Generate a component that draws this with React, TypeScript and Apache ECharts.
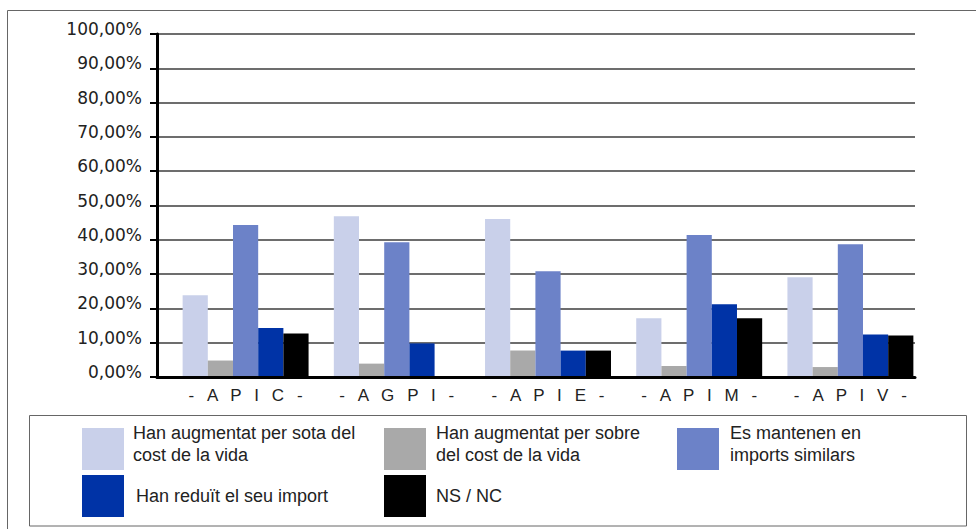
import React, { useEffect, useRef } from "react";
import * as echarts from "echarts";

const categories = ["APIC", "AGPI", "APIE", "APIM", "APIV"];
const yTicks = { min: 0, max: 100, interval: 10 };

const seriesNames = [
  "Han augmentat per sota del cost de la vida",
  "Han augmentat per sobre del cost de la vida",
  "Es mantenen en imports similars",
  "Han reduït el seu import",
  "NS / NC",
];
const legendLines = [
  ["Han augmentat per sota del", "cost de la vida"],
  ["Han augmentat per sobre", "del cost de la vida"],
  ["Es mantenen en", "imports similars"],
  ["Han reduït el seu import"],
  ["NS / NC"],
];
const perSota = [23.8, 46.9, 46.1, 17.1, 29.1];
const perSobre = [4.8, 3.9, 7.7, 3.2, 2.9];
const similars = [44.3, 39.3, 30.8, 41.4, 38.7];
const reduit = [14.3, 9.8, 7.7, 21.2, 12.4];
const nsnc = [12.7, 0, 7.7, 17.1, 12.1];
const seriesValues = [perSota, perSobre, similars, reduit, nsnc];
const colors = ["#C9D0EA", "#A9A9A9", "#6C82C8", "#0033A6", "#000000"];

export default function App() {
  const ref = useRef<HTMLDivElement>(null);
  useEffect(() => {
    if (!ref.current) return;
    const chart = echarts.init(ref.current, null, { renderer: "svg" });
    const legendPos = [
      { left: 82, top: 424, pad: 4 },
      { left: 384, top: 424, pad: 5 },
      { left: 677, top: 424, pad: 6 },
      { left: 82, top: 475, pad: 7 },
      { left: 384, top: 475, pad: 5 },
    ];
    const gap = "  \u2009";
    const option: any = {
      animation: false,
      backgroundColor: "#ffffff",
      grid: [
        { left: 157, right: 61, top: 34, bottom: 152 },
        { left: 170, right: 50, top: 34, bottom: 152 },
      ],
      xAxis: [
        {
          type: "category",
          gridIndex: 0,
          data: categories,
          z: 5,
          axisLine: { show: true, lineStyle: { color: "#000", width: 3 } },
          axisTick: { show: false },
          axisLabel: { show: false },
          splitLine: { show: false },
        },
        {
          type: "category",
          gridIndex: 1,
          data: categories,
          axisLine: { show: false },
          axisTick: { show: false },
          splitLine: { show: false },
          axisLabel: {
            interval: 0,
            hideOverlap: false,
            margin: 10,
            color: "#222",
            fontFamily: "Liberation Sans",
            fontSize: 17,
            formatter: (v: string) => "-" + gap + v.split("").join(gap) + gap + "-",
          },
        },
      ],
      yAxis: [
        {
          type: "value",
          gridIndex: 0,
          min: yTicks.min,
          max: yTicks.max,
          interval: yTicks.interval,
          axisLine: { show: true, lineStyle: { color: "#000", width: 3 } },
          axisTick: { show: true, length: 7, lineStyle: { color: "#000", width: 2 } },
          splitLine: { show: true, lineStyle: { color: "#3c3c3c", width: 1.5 } },
          axisLabel: {
            margin: 15,
            color: "#222",
            fontFamily: "DejaVu Sans",
            fontSize: 17,
            verticalAlign: "bottom",
            lineHeight: 10,
            formatter: (v: number) => v.toFixed(2).replace(".", ",") + "%",
          },
        },
        {
          type: "value",
          gridIndex: 1,
          min: yTicks.min,
          max: yTicks.max,
          interval: yTicks.interval,
          show: false,
          splitLine: { show: false },
        },
      ],
      legend: legendPos.map((p, i) => ({
        left: p.left,
        top: p.top,
        padding: 0,
        selectedMode: false,
        icon: "rect",
        itemWidth: 42,
        itemHeight: 42,
        data: [seriesNames[i]],
        formatter: () =>
          legendLines[i].map((l) => "{t|" + l + "}").join("\n") +
          (legendLines[i].length > 1 ? "\n{s| }" : ""),
        textStyle: {
          color: "#222",
          fontFamily: "Liberation Sans",
          fontSize: 18,
          padding: [0, 0, 0, p.pad],
          rich: {
            t: {
              color: "#222",
              fontFamily: "Liberation Sans",
              fontSize: 18,
              lineHeight: 22,
            },
            s: { fontSize: 1, lineHeight: 10 },
          },
        },
      })),
      series: seriesNames.map((name, i) => ({
        name,
        type: "bar",
        xAxisIndex: 1,
        yAxisIndex: 1,
        data: seriesValues[i],
        barGap: "0%",
        barCategoryGap: "16.7%",
        itemStyle: { color: colors[i] },
      })),
      graphic: [
        {
          type: "rect",
          shape: { x: 7.5, y: 10.5, width: 990, height: 540 },
          style: { fill: "none", stroke: "#666", lineWidth: 1 },
          silent: true,
          z: -1,
        },
        {
          type: "rect",
          shape: { x: 29.5, y: 415.5, width: 937, height: 110.5 },
          style: { fill: "none", stroke: "#666", lineWidth: 1 },
          silent: true,
          z: -1,
        },
      ],
    };
    chart.setOption(option);
    return () => chart.dispose();
  }, []);
  return (
    <div
      ref={ref}
      style={{ position: "absolute", left: 0, top: 0, width: 976, height: 529 }}
    />
  );
}
